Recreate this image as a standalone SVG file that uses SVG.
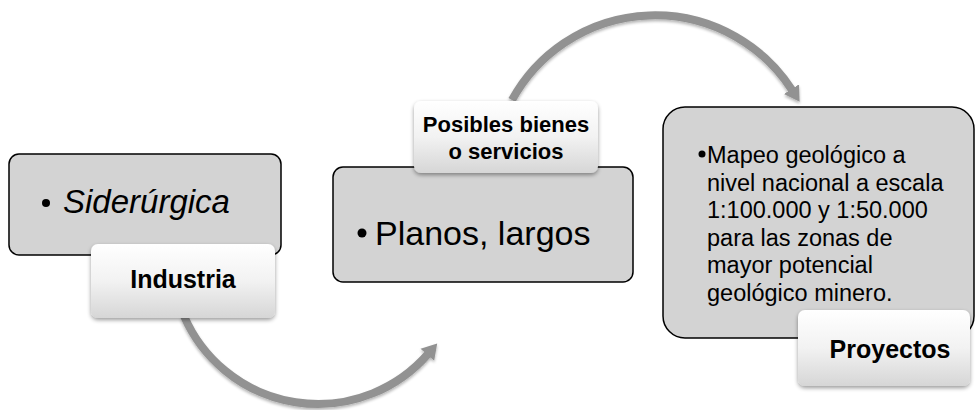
<svg xmlns="http://www.w3.org/2000/svg" width="976" height="410" viewBox="0 0 976 410">
  <style>
    .box { fill: #d3d3d3; stroke: #000; stroke-width: 1.5; }
    .lbl { fill: url(#lblGrad); filter: url(#shadow); }
    .lt { font-family: "Liberation Sans", Arial, sans-serif; font-weight: bold; fill: #000; text-anchor: middle; }
    .bt { font-family: "Liberation Sans", Arial, sans-serif; fill: #000; }
    .arc { fill: none; stroke: #929292; stroke-width: 8; filter: url(#ashadow); }
  </style>
  <defs>
    <linearGradient id="lblGrad" x1="0" y1="0" x2="0" y2="1">
      <stop offset="0" stop-color="#ffffff"/>
      <stop offset="0.5" stop-color="#f2f2f2"/>
      <stop offset="1" stop-color="#d6d6d6"/>
    </linearGradient>
    <filter id="shadow" x="-10%" y="-10%" width="120%" height="130%">
      <feGaussianBlur in="SourceAlpha" stdDeviation="2"/>
      <feOffset dx="0" dy="2" result="b"/>
      <feComponentTransfer><feFuncA type="linear" slope="0.4"/></feComponentTransfer>
      <feMerge><feMergeNode/><feMergeNode in="SourceGraphic"/></feMerge>
    </filter>
    <filter id="ashadow" x="-10%" y="-10%" width="120%" height="130%">
      <feGaussianBlur in="SourceAlpha" stdDeviation="1.5"/>
      <feOffset dx="0" dy="2" result="b"/>
      <feComponentTransfer><feFuncA type="linear" slope="0.3"/></feComponentTransfer>
      <feMerge><feMergeNode/><feMergeNode in="SourceGraphic"/></feMerge>
    </filter>
    <marker id="head" markerUnits="userSpaceOnUse" viewBox="0 -10 16 20" markerWidth="16" markerHeight="20" refX="1" refY="0" orient="auto">
      <path d="M0,-9 L15,0 L0,9 z" fill="#929292"/>
    </marker>
  </defs>

  <g id="connectors">
    <path class="arc" d="M184,316 A146,146 0 0 0 428,354" marker-end="url(#head)"/>
    <path class="arc" d="M512,100 A163,163 0 0 1 792,90" marker-end="url(#head)"/>
  </g>

  <g id="node-industria">
    <rect class="box" x="9" y="154" width="272" height="101" rx="10"/>
    <circle cx="46" cy="203" r="4" fill="#000"/>
    <text class="bt" x="63" y="213" font-size="33" font-style="italic">Siderúrgica</text>
    <rect class="lbl" x="91" y="244" width="184" height="74" rx="7"/>
    <text class="lt" x="183" y="288" font-size="25">Industria</text>
  </g>

  <g id="node-bienes">
    <rect class="box" x="333" y="167" width="300" height="115" rx="10"/>
    <circle cx="362" cy="233" r="4.5" fill="#000"/>
    <text class="bt" x="375" y="245" font-size="34">Planos, largos</text>
    <rect class="lbl" x="414" y="101" width="184" height="72" rx="7"/>
    <text class="lt" x="506" y="132" font-size="22">Posibles bienes</text>
    <text class="lt" x="506" y="159" font-size="22">o servicios</text>
  </g>

  <g id="node-proyectos">
    <rect class="box" x="663" y="107" width="311" height="231" rx="22"/>
    <circle cx="702" cy="154" r="3.5" fill="#000"/>
    <g class="bt" font-size="23.5">
      <text x="707" y="163">Mapeo geológico a</text>
      <text x="707" y="190.5">nivel nacional a escala</text>
      <text x="707" y="218">1:100.000 y 1:50.000</text>
      <text x="707" y="245.5">para las zonas de</text>
      <text x="707" y="273">mayor potencial</text>
      <text x="707" y="300.5">geológico minero.</text>
    </g>
    <rect class="lbl" x="798" y="310" width="172" height="76" rx="7"/>
    <text class="lt" x="890" y="358" font-size="25">Proyectos</text>
  </g>
</svg>
